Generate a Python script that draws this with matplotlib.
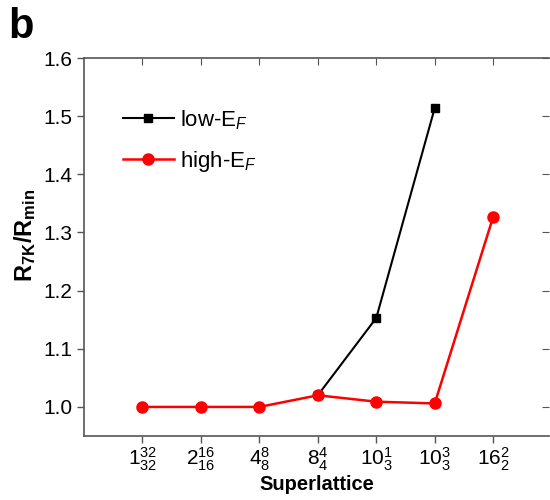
import numpy as np
import matplotlib
matplotlib.use("Agg")
import matplotlib.pyplot as plt

plt.rcParams["font.family"] = ["Liberation Sans", "DejaVu Sans"]
plt.rcParams["mathtext.fontset"] = "custom"
plt.rcParams["mathtext.rm"] = "Liberation Sans"
plt.rcParams["mathtext.it"] = "Liberation Sans:italic"
plt.rcParams["mathtext.bf"] = "Liberation Sans:bold"

# data
superlattice = [r"$1^{32}_{32}$", r"$2^{16}_{16}$", r"$4^{8}_{8}$", r"$8^{4}_{4}$",
                r"$10^{1}_{3}$", r"$10^{3}_{3}$", r"$16^{2}_{2}$"]
low_ef_idx = [3, 4, 5]
low_ef = [1.020, 1.153, 1.514]
high_ef_idx = [0, 1, 2, 3, 4, 5, 6]
high_ef = [1.000, 1.000, 1.000, 1.020, 1.009, 1.006, 1.327]
yticks = [1.0, 1.1, 1.2, 1.3, 1.4, 1.5, 1.6]

fig = plt.figure(figsize=(5.5, 5), dpi=100)
ax = fig.add_axes([0.1527, 0.128, 0.845, 0.756])

ax.plot(low_ef_idx, low_ef, color="black", marker="s", markersize=6, lw=1.5,
        label=r"low-E$_{F}$", zorder=2)
ax.plot(high_ef_idx, high_ef, color="red", marker="o", markersize=8, lw=1.8,
        label=r"high-E$_{\mathit{F}}$", zorder=3)

ax.set_xlim(-1, 6.95)
ax.set_ylim(0.95, 1.6)
ax.set_xticks(range(len(superlattice)))
ax.set_xticklabels(superlattice, fontsize=15)
ax.set_yticks(yticks)
ax.set_yticklabels([f"{v:.1f}" for v in yticks], fontsize=15)

ax.tick_params(axis="both", direction="out", length=5, color="#555555", width=1)
ax.tick_params(axis="x", pad=2)
for s in ax.spines.values():
    s.set_color("#555555")
    s.set_linewidth(1.2)
ax.spines["right"].set_visible(False)

# inward ticks on top and right, no labels
top = ax.secondary_xaxis("top")
top.set_xticks(range(len(superlattice)))
top.tick_params(direction="in", length=5, color="#555555", labeltop=False)
top.spines["top"].set_visible(False)
right = ax.secondary_yaxis("right")
right.set_yticks(yticks)
right.tick_params(direction="in", length=5, color="#555555", labelright=False)
right.spines["right"].set_visible(False)

ax.set_xlabel("Superlattice", fontsize=14.5, fontweight="bold")
ax.xaxis.set_label_coords(0.5, -0.103)
ax.set_ylabel(r"R$_{\mathbf{7K}}$/R$_{\mathbf{min}}$", fontsize=17, fontweight="bold")
ax.yaxis.set_label_coords(-0.1, 0.53)

ax.legend(loc="upper left", bbox_to_anchor=(0.04, 0.92), frameon=False, fontsize=16,
          handlelength=2.3, labelspacing=0.75, handletextpad=0.3)

fig.text(0.015, 0.925, "b", fontsize=30, fontweight="bold")

fig.savefig("out.png", dpi=100)
